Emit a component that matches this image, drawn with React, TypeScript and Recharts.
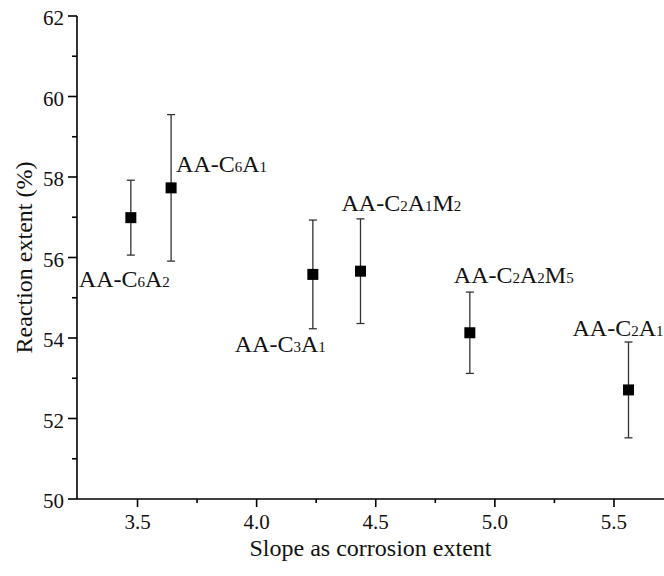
import { ScatterChart, Scatter, XAxis, YAxis, ErrorBar, Label } from "recharts";

// sample names (digits are drawn as subscripts)
const sampleNames = ["AA-C6A2", "AA-C6A1", "AA-C3A1", "AA-C2A1M2", "AA-C2A2M5", "AA-C2A1"];
const slopes = [3.472, 3.641, 4.236, 4.436, 4.895, 5.561];
const extents = [56.99, 57.73, 55.58, 55.66, 54.13, 52.71];
const errors = [0.93, 1.82, 1.35, 1.3, 1.01, 1.19];

const xTicks = [3.5, 3.75, 4.0, 4.25, 4.5, 4.75, 5.0, 5.25, 5.5];
const yTicks = [50, 51, 52, 53, 54, 55, 56, 57, 58, 59, 60, 61, 62];

// where each name sits relative to its marker
const labelOffsets = [
  { dx: -52, dy: 69 },
  { dx: 5, dy: -16 },
  { dx: -78, dy: 78 },
  { dx: -19, dy: -60 },
  { dx: -16, dy: -50 },
  { dx: -56, dy: -54 },
];

const FONT = '"Liberation Serif", "Times New Roman", Times, serif';
const txt = { fontFamily: FONT };

const data = sampleNames.map((name, i) => ({
  i,
  name,
  x: slopes[i],
  y: extents[i],
  err: errors[i],
}));

function nameParts(name: string) {
  return name.split(/(\d)/).filter((s) => s !== "").map((s, k) =>
    /\d/.test(s) ? (
      <tspan key={k} fontSize={15}>{s}</tspan>
    ) : (
      <tspan key={k}>{s}</tspan>
    )
  );
}

const Marker = (props: any) => {
  const { cx, cy, payload } = props;
  const off = labelOffsets[payload.i];
  return (
    <g>
      <rect x={cx - 5.5} y={cy - 5.5} width={11} height={11} fill="#000" />
      <text x={cx + off.dx} y={cy + off.dy} fontSize={24} style={txt} fill="#111">
        {nameParts(payload.name)}
      </text>
    </g>
  );
};

const XTick = (props: any) => {
  const { x, y, payload } = props;
  const v = payload.value;
  const major = Math.abs(v * 2 - Math.round(v * 2)) < 1e-6;
  return (
    <g>
      <line x1={x} x2={x} y1={y} y2={y + (major ? 8 : 4)} stroke="#000" strokeWidth={1.6} />
      {major && (
        <text x={x} y={y + 30} textAnchor="middle" fontSize={21} style={txt} fill="#111">
          {v.toFixed(1)}
        </text>
      )}
    </g>
  );
};

const YTick = (props: any) => {
  const { x, y, payload } = props;
  const v = payload.value;
  const major = v % 2 === 0;
  return (
    <g>
      <line x1={x - (major ? 9 : 5)} x2={x} y1={y} y2={y} stroke="#000" strokeWidth={1.6} />
      {major && (
        <text x={x - 13} y={y + 9} textAnchor="end" fontSize={21} style={txt} fill="#111">
          {v}
        </text>
      )}
    </g>
  );
};

const XTitle = (props: any) => {
  const vb = props.viewBox;
  return (
    <text x={vb.x + vb.width / 2} y={vb.y + 57} textAnchor="middle" fontSize={24} style={txt} fill="#111">
      Slope as corrosion extent
    </text>
  );
};

const YTitle = (props: any) => {
  const vb = props.viewBox;
  const cx = vb.x + 32;
  const cy = vb.y + vb.height / 2;
  return (
    <text x={cx} y={cy} textAnchor="middle" fontSize={24} style={txt} fill="#111" transform={`rotate(-90, ${cx}, ${cy})`}>
      Reaction extent (%)
    </text>
  );
};

export default function App() {
  return (
    <div style={{ position: "absolute", left: 0, top: 0, width: 664, height: 576, background: "#fff", fontFamily: FONT }}>
      <ScatterChart width={664} height={576} margin={{ top: 16, right: 0, bottom: 0, left: 0 }}>
        <XAxis
          type="number"
          dataKey="x"
          domain={[3.246, 5.71]}
          allowDataOverflow
          ticks={xTicks}
          interval={0}
          tickSize={0}
          tickMargin={0}
          tickLine={false}
          tick={<XTick />}
          height={77}
          axisLine={{ stroke: "#000", strokeWidth: 1.6 }}
        >
          <Label content={<XTitle />} />
        </XAxis>
        <YAxis
          type="number"
          dataKey="y"
          domain={[50, 62]}
          allowDataOverflow
          ticks={yTicks}
          interval={0}
          tickSize={0}
          tickMargin={0}
          tickLine={false}
          tick={<YTick />}
          width={77}
          axisLine={{ stroke: "#000", strokeWidth: 1.6 }}
        >
          <Label content={<YTitle />} />
        </YAxis>
        <Scatter data={data} shape={<Marker />} isAnimationActive={false}>
          <ErrorBar dataKey="err" direction="y" width={4} stroke="#333" strokeWidth={1.3} />
        </Scatter>
      </ScatterChart>
    </div>
  );
}
